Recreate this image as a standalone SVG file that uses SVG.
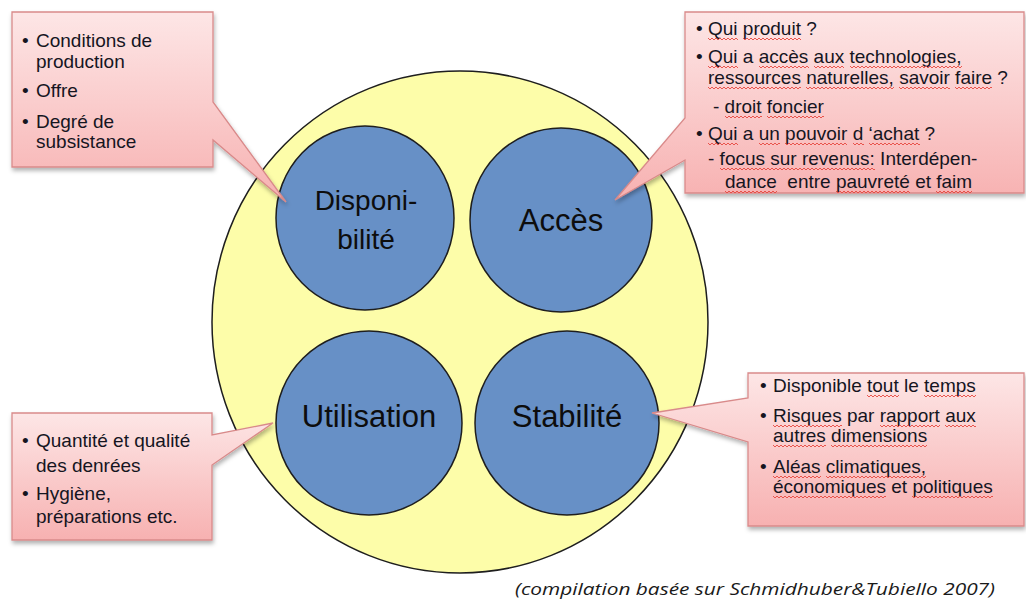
<svg xmlns="http://www.w3.org/2000/svg" width="1026" height="604" viewBox="0 0 1026 604">
  <style>
    .label { font-family: "Liberation Sans", Arial, sans-serif; fill: #0d0d0d; text-anchor: middle; }
    .note { font-family: "Liberation Sans", Arial, sans-serif; font-size: 19px; fill: #15151f; }
    .callout { fill: url(#pinkGrad); stroke: #d98a8a; stroke-width: 1.3; filter: url(#shadow); }
    .dim { fill: #6790c6; stroke: #1e1e1e; stroke-width: 1.5; }
    .caption { font-family: "Open Sans", "Liberation Sans", sans-serif; font-style: italic; font-size: 16px; fill: #1a1a1a; }
    .squiggle { overflow: hidden; }
  </style>
  <defs>
    <linearGradient id="pinkGrad" x1="0" y1="0" x2="0" y2="1">
      <stop offset="0" stop-color="#fde6e6"/>
      <stop offset="1" stop-color="#f7b1b1"/>
    </linearGradient>
    <filter id="shadow" x="-10%" y="-10%" width="125%" height="130%">
      <feDropShadow dx="1" dy="3" stdDeviation="2" flood-color="#000" flood-opacity="0.3"/>
    </filter>
    <!-- spell-check style red wavy line, repeated per word -->
    <pattern id="wave" width="4" height="4" patternUnits="userSpaceOnUse">
      <path d="M0,1 L2,3 L4,1" fill="none" stroke="#e8463e" stroke-width="0.9"/>
    </pattern>
    <rect id="w" width="200" height="4" fill="url(#wave)"/>
  </defs>

  <rect width="1026" height="604" fill="#ffffff"/>

  <!-- outer food-security circle -->
  <g id="securite">
    <ellipse cx="460" cy="322" rx="248" ry="251" fill="#fdfda9" stroke="#1e1e1e" stroke-width="1.5"/>
  </g>

  <!-- the four dimensions -->
  <g id="disponibilite">
    <ellipse class="dim" cx="365" cy="218" rx="89" ry="92"/>
    <text class="label" font-size="28" x="366" y="210">Disponi-</text>
    <text class="label" font-size="28" x="366" y="249">bilité</text>
  </g>
  <g id="acces">
    <ellipse class="dim" cx="561" cy="220" rx="91" ry="92"/>
    <text class="label" font-size="31" x="561" y="231">Accès</text>
  </g>
  <g id="utilisation">
    <ellipse class="dim" cx="369" cy="423" rx="93" ry="92"/>
    <text class="label" font-size="31" x="369" y="427">Utilisation</text>
  </g>
  <g id="stabilite">
    <ellipse class="dim" cx="567" cy="423" rx="92" ry="92"/>
    <text class="label" font-size="31" x="567" y="427">Stabilité</text>
  </g>

  <!-- callouts (wedge pointers are part of each shape) -->
  <g id="callout-disponibilite">
    <path class="callout" d="M12,12 H213 V102 L286,202 L213,140 V167 H12 Z"/>
    <text class="note" x="22" y="47">•</text>
    <text class="note" x="36" y="47">Conditions de</text>
    <text class="note" x="36" y="68">production</text>
    <text class="note" x="22" y="97">•</text>
    <text class="note" x="36" y="97">Offre</text>
    <text class="note" x="22" y="128">•</text>
    <text class="note" x="36" y="128">Degré de</text>
    <text class="note" x="36" y="148">subsistance</text>
  </g>

  <g id="callout-acces">
    <path class="callout" d="M685,12 H1024 V193 H685 V160 L615,200 L685,118 Z"/>
    <text class="note" x="696" y="35">•</text>
    <text class="note" x="708" y="35">Qui produit ?</text>
    <text class="note" x="696" y="63">•</text>
    <text class="note" x="708" y="63">Qui a accès aux technologies,</text>
    <text class="note" x="708" y="84">ressources naturelles, savoir faire ?</text>
    <text class="note" x="713" y="113">- droit foncier</text>
    <text class="note" x="696" y="140">•</text>
    <text class="note" x="708" y="140">Qui a un pouvoir d ‘achat ?</text>
    <text class="note" x="708" y="165">- focus sur revenus: Interdépen-</text>
    <text class="note" x="725" y="188" xml:space="preserve">dance  entre pauvreté et faim</text>
    <g class="squiggles">
      <svg class="squiggle" x="708" y="37" width="30" height="4"><use href="#w"/></svg>
      <svg class="squiggle" x="743" y="37" width="58" height="4"><use href="#w"/></svg>
      <svg class="squiggle" x="708" y="65" width="30" height="4"><use href="#w"/></svg>
      <svg class="squiggle" x="759" y="65" width="50" height="4"><use href="#w"/></svg>
      <svg class="squiggle" x="814" y="65" width="30" height="4"><use href="#w"/></svg>
      <svg class="squiggle" x="850" y="65" width="112" height="4"><use href="#w"/></svg>
      <svg class="squiggle" x="708" y="86" width="93" height="4"><use href="#w"/></svg>
      <svg class="squiggle" x="806" y="86" width="88" height="4"><use href="#w"/></svg>
      <svg class="squiggle" x="899" y="86" width="51" height="4"><use href="#w"/></svg>
      <svg class="squiggle" x="955" y="86" width="37" height="4"><use href="#w"/></svg>
      <svg class="squiggle" x="725" y="115" width="37" height="4"><use href="#w"/></svg>
      <svg class="squiggle" x="767" y="115" width="57" height="4"><use href="#w"/></svg>
      <svg class="squiggle" x="708" y="142" width="30" height="4"><use href="#w"/></svg>
      <svg class="squiggle" x="759" y="142" width="21" height="4"><use href="#w"/></svg>
      <svg class="squiggle" x="785" y="142" width="62" height="4"><use href="#w"/></svg>
      <svg class="squiggle" x="853" y="142" width="11" height="4"><use href="#w"/></svg>
      <svg class="squiggle" x="869" y="142" width="51" height="4"><use href="#w"/></svg>
      <svg class="squiggle" x="720" y="167" width="155" height="4"><use href="#w"/></svg>
      <svg class="squiggle" x="725" y="190" width="52" height="4"><use href="#w"/></svg>
      <svg class="squiggle" x="836" y="190" width="74" height="4"><use href="#w"/></svg>
      <svg class="squiggle" x="936" y="190" width="36" height="4"><use href="#w"/></svg>
    </g>
  </g>

  <g id="callout-utilisation">
    <path class="callout" d="M12,413 H212 V435 L273,423 L212,465 V540 H12 Z"/>
    <text class="note" x="22" y="447">•</text>
    <text class="note" x="36" y="447">Quantité et qualité</text>
    <text class="note" x="36" y="472">des denrées</text>
    <text class="note" x="22" y="500">•</text>
    <text class="note" x="36" y="500">Hygiène,</text>
    <text class="note" x="36" y="523">préparations etc.</text>
  </g>

  <g id="callout-stabilite">
    <path class="callout" d="M748,373 H1024 V526 H748 V442 L652,413 L748,398 Z"/>
    <text class="note" x="760" y="392">•</text>
    <text class="note" x="773" y="392">Disponible tout le temps</text>
    <text class="note" x="760" y="422">•</text>
    <text class="note" x="773" y="422">Risques par rapport aux</text>
    <text class="note" x="773" y="442">autres dimensions</text>
    <text class="note" x="760" y="473">•</text>
    <text class="note" x="773" y="473">Aléas climatiques,</text>
    <text class="note" x="773" y="493">économiques et politiques</text>
    <g class="squiggles">
      <svg class="squiggle" x="867" y="394" width="32" height="4"><use href="#w"/></svg>
      <svg class="squiggle" x="924" y="394" width="52" height="4"><use href="#w"/></svg>
      <svg class="squiggle" x="773" y="424" width="69" height="4"><use href="#w"/></svg>
      <svg class="squiggle" x="880" y="424" width="60" height="4"><use href="#w"/></svg>
      <svg class="squiggle" x="945" y="424" width="31" height="4"><use href="#w"/></svg>
      <svg class="squiggle" x="773" y="444" width="53" height="4"><use href="#w"/></svg>
      <svg class="squiggle" x="831" y="444" width="96" height="4"><use href="#w"/></svg>
      <svg class="squiggle" x="773" y="475" width="48" height="4"><use href="#w"/></svg>
      <svg class="squiggle" x="826" y="475" width="100" height="4"><use href="#w"/></svg>
      <svg class="squiggle" x="773" y="495" width="113" height="4"><use href="#w"/></svg>
      <svg class="squiggle" x="912" y="495" width="81" height="4"><use href="#w"/></svg>
    </g>
  </g>

  <!-- connectors: none besides the callout wedges -->
  <g id="connectors"/>

  <text class="caption" x="515" y="595" textLength="480" lengthAdjust="spacingAndGlyphs">(compilation basée sur Schmidhuber&amp;Tubiello 2007)</text>
</svg>
